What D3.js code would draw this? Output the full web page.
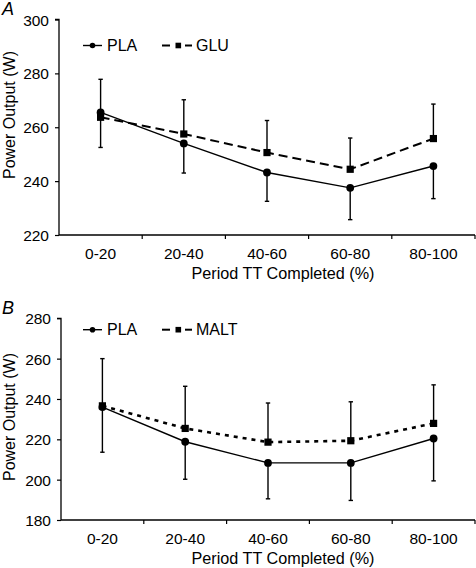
<!DOCTYPE html>
<html>
<head>
<meta charset="utf-8">
<script src="https://cdn.jsdelivr.net/npm/d3@7"></script>
<style>
  html, body { margin: 0; padding: 0; background: #fff; }
  svg text { font-family: "Liberation Sans", Arial, sans-serif; fill: #000; }
</style>
</head>
<body>
<svg id="chart" width="476" height="568"></svg>
<script>
// ---- Data ----
const categories = ["0-20", "20-40", "40-60", "60-80", "80-100"];

// Panel A
const plaA = [265.5, 254.0, 243.2, 237.5, 245.6];
const plaA_lowerErr = [13.0, 11.0, 10.7, 11.8, 12.1];
const gluA = [263.7, 257.5, 250.6, 244.4, 255.8];
const gluA_upperErr = [14.1, 12.7, 11.9, 11.6, 12.8];
const yTicksA = [220, 240, 260, 280, 300];

// Panel B
const plaB = [236.0, 218.8, 208.3, 208.3, 220.4];
const plaB_lowerErr = [22.4, 18.6, 17.8, 18.6, 21.0];
const maltB = [236.6, 225.4, 218.6, 219.3, 227.9];
const maltB_upperErr = [23.4, 20.9, 19.4, 19.3, 19.1];
const yTicksB = [180, 200, 220, 240, 260, 280];

const svg = d3.select("#chart");

function drawPanel(cfg) {
  const g = svg.append("g");
  const x = d3.scaleBand().domain(categories).range([cfg.left, cfg.right]);
  const y = d3.scaleLinear().domain(cfg.yDomain).range([cfg.bottom, cfg.top]);
  const cx = c => x(c) + x.bandwidth() / 2;

  // Y axis
  const yAxis = d3.axisLeft(y).tickValues(cfg.yTicks).tickSize(4).tickPadding(6).tickFormat(d3.format("d"));
  const ya = g.append("g").attr("transform", `translate(${cfg.left},0)`).call(yAxis);
  ya.select(".domain").attr("d", `M-4,${cfg.top}H0V${cfg.bottom}`).attr("stroke", "#000").attr("stroke-width", 1.3);
  ya.selectAll(".tick line").attr("stroke", "#000").attr("stroke-width", 1.2);
  ya.selectAll(".tick text").style("font-size", "15.5px").attr("dy", "0.36em");

  // X axis
  const xAxis = d3.axisBottom(x).tickSize(0).tickPadding(13);
  const xa = g.append("g").attr("transform", `translate(0,${cfg.bottom})`).call(xAxis);
  xa.select(".domain").attr("d", `M${cfg.left},0H${cfg.right}`).attr("stroke", "#000").attr("stroke-width", 1.3);
  xa.selectAll(".tick text").style("font-size", "15.5px");
  // band boundary ticks
  const bounds = categories.slice(1).map(c => x(c)).concat([cfg.right]);
  xa.selectAll(".bt").data(bounds).enter().append("line")
    .attr("x1", d => d).attr("x2", d => d).attr("y1", 0).attr("y2", 4)
    .attr("stroke", "#000").attr("stroke-width", 1.2);

  // Error bars
  function errBars(vals, errs, dir) {
    const eg = g.append("g");
    categories.forEach((c, i) => {
      const y0 = y(vals[i]);
      const y1 = y(vals[i] + dir * errs[i]);
      eg.append("line").attr("x1", cx(c)).attr("x2", cx(c)).attr("y1", y0).attr("y2", y1)
        .attr("stroke", "#000").attr("stroke-width", 1.4);
      eg.append("line").attr("x1", cx(c) - 2.2).attr("x2", cx(c) + 2.2).attr("y1", y1).attr("y2", y1)
        .attr("stroke", "#000").attr("stroke-width", 1.4);
    });
  }
  errBars(cfg.s2, cfg.s2Err, 1);
  errBars(cfg.s1, cfg.s1Err, -1);

  const line = d3.line().x((d, i) => cx(categories[i])).y(d => y(d));

  // series 2 (dashed / dotted) with squares
  g.append("path").datum(cfg.s2).attr("d", line).attr("fill", "none")
    .attr("stroke", "#000").attr("stroke-width", cfg.s2Width).attr("stroke-dasharray", cfg.s2Dash);
  g.selectAll(".sq").data(cfg.s2).enter().append("rect")
    .attr("x", (d, i) => cx(categories[i]) - 3.6).attr("y", d => y(d) - 3.6)
    .attr("width", 7.2).attr("height", 7.2).attr("fill", "#000");

  // series 1 solid with circles
  g.append("path").datum(cfg.s1).attr("d", line).attr("fill", "none")
    .attr("stroke", "#000").attr("stroke-width", 1.4);
  g.selectAll(".ci").data(cfg.s1).enter().append("circle")
    .attr("cx", (d, i) => cx(categories[i])).attr("cy", d => y(d)).attr("r", 3.9).attr("fill", "#000");

  // Panel letter
  g.append("text").attr("x", 2).attr("y", cfg.letterY).text(cfg.letter)
    .style("font-size", "18px").style("font-style", "italic");

  // Y title
  g.append("text").attr("transform", `translate(15,${cfg.yTitleY}) rotate(-90)`)
    .attr("text-anchor", "middle").style("font-size", "16px").text("Power Output (W)");

  // X title
  g.append("text").attr("x", 283).attr("y", cfg.bottom + 44).attr("text-anchor", "middle")
    .style("font-size", "16.2px").text("Period TT Completed (%)");

  // Legend
  const ly = cfg.legendY;
  const lg = g.append("g");
  lg.append("line").attr("x1", 83).attr("x2", 102).attr("y1", ly).attr("y2", ly)
    .attr("stroke", "#000").attr("stroke-width", 1.4);
  lg.append("circle").attr("cx", 92.5).attr("cy", ly).attr("r", 2.8).attr("fill", "#000");
  lg.append("text").attr("x", 107).attr("y", ly).attr("dy", "0.36em").style("font-size", "16px").text("PLA");
  lg.append("line").attr("x1", 162).attr("x2", 170).attr("y1", ly).attr("y2", ly)
    .attr("stroke", "#000").attr("stroke-width", 2);
  lg.append("rect").attr("x", 175.5).attr("y", ly - 2.8).attr("width", 5.6).attr("height", 5.6).attr("fill", "#000");
  lg.append("line").attr("x1", 185).attr("x2", 192).attr("y1", ly).attr("y2", ly)
    .attr("stroke", "#000").attr("stroke-width", 2);
  lg.append("text").attr("x", 196).attr("y", ly).attr("dy", "0.36em").style("font-size", "16px").text(cfg.s2Name);
}

drawPanel({
  left: 59, right: 475, top: 19.5, bottom: 235,
  yDomain: [220, 300], yTicks: yTicksA,
  s1: plaA, s1Err: plaA_lowerErr, s2: gluA, s2Err: gluA_upperErr,
  s2Name: "GLU", s2Dash: "9,5", s2Width: 2,
  letter: "A", letterY: 15, yTitleY: 115, legendY: 45.5
});

drawPanel({
  left: 61, right: 475, top: 318.3, bottom: 520,
  yDomain: [180, 280], yTicks: yTicksB,
  s1: plaB, s1Err: plaB_lowerErr, s2: maltB, s2Err: maltB_upperErr,
  s2Name: "MALT", s2Dash: "4,5", s2Width: 2.6,
  letter: "B", letterY: 314, yTitleY: 417, legendY: 329.7
});
</script>
</body>
</html>
